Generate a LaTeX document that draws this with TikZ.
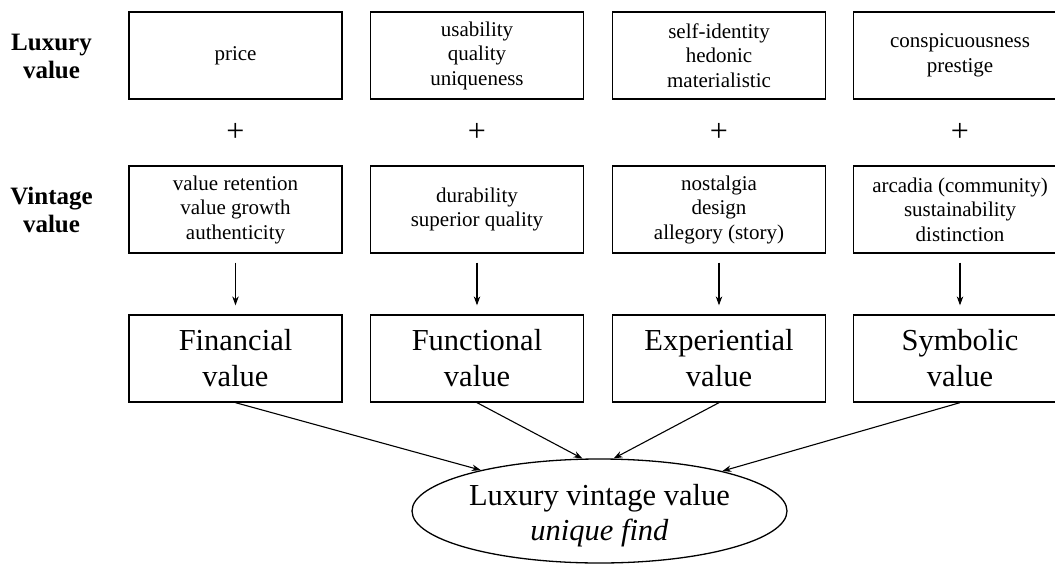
\documentclass[tikz,border=0pt]{standalone}
\usepackage{fontspec}
\setmainfont{Liberation Serif}
\usetikzlibrary{shapes.geometric,arrows.meta}
\begin{document}
\begin{tikzpicture}[x=1pt,y=-1pt,
  valbox/.style={draw, line width=1.3pt, minimum width=213pt, minimum height=87pt,
    inner sep=0pt, align=center, font=\fontsize{21}{24.5}\selectfont},
  dimbox/.style={valbox, font=\fontsize{30.5}{36}\selectfont},
  rowlabel/.style={align=center, inner sep=0pt, font=\fontsize{25}{28}\selectfont\bfseries},
  plussign/.style={inner sep=0pt, font=\fontsize{32}{32}\selectfont},
  link/.style={line width=1.1pt, -{Stealth[length=9pt,width=6.5pt]}},
  drop/.style={link, shorten <=9pt, shorten >=9pt},
]
\useasboundingbox (0,0) rectangle (1055,565);

% row labels
\node[rowlabel] (lux) at (51.5,56) {Luxury\\value};
\node[rowlabel] (vin) at (51.5,210) {Vintage\\value};

% luxury value attributes
\node[valbox] (l1) at (235.5,55.5) {price};
\node[valbox] (l2) at (477,55.5) {usability\\quality\\uniqueness};
\node[valbox] (l3) at (719,55.5) {self-identity\\hedonic\\materialistic};
\node[valbox] (l4) at (960,55.5) {conspicuousness\\prestige};

% plus signs
\node[plussign] (p1) at (235.5,132.5) {+};
\node[plussign] (p2) at (477,132.5) {+};
\node[plussign] (p3) at (719,132.5) {+};
\node[plussign] (p4) at (960,132.5) {+};

% vintage value attributes
\node[valbox] (v1) at (235.5,209.5) {value retention\\value growth\\authenticity};
\node[valbox] (v2) at (477,209.5) {durability\\superior quality};
\node[valbox] (v3) at (719,209.5) {nostalgia\\design\\allegory (story)};
\node[valbox] (v4) at (960,209.5) {arcadia (community)\\sustainability\\distinction};

% value dimensions
\node[dimbox] (d1) at (235.5,358.5) {Financial\\value};
\node[dimbox] (d2) at (477,358.5) {Functional\\value};
\node[dimbox] (d3) at (719,358.5) {Experiential\\value};
\node[dimbox] (d4) at (960,358.5) {Symbolic\\value};

% outcome
\node[ellipse, draw, line width=1.3pt, minimum width=375pt, minimum height=104pt,
  inner sep=0pt, align=center, font=\fontsize{30.5}{35}\selectfont]
  (lvv) at (599.5,511) {\rule{0pt}{30pt}Luxury vintage value\\\textit{unique find}};

% connectors
\draw[drop] (v1) -- (d1);
\draw[drop] (v2) -- (d2);
\draw[drop] (v3) -- (d3);
\draw[drop] (v4) -- (d4);

\draw[link] (d1.south) -- (lvv.161.9);
\draw[link] (d2.south) -- (lvv.108.3);
\draw[link] (d3.south) -- (lvv.75.7);
\draw[link] (d4.south) -- (lvv.18.5);
\end{tikzpicture}
\end{document}
